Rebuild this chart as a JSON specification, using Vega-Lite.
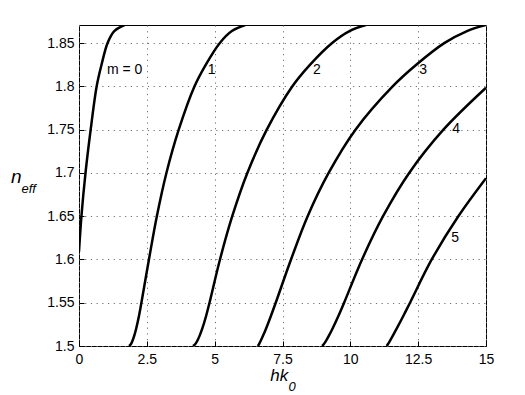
{
  "$schema": "https://vega.github.io/schema/vega-lite/v6.json",
  "width": 407,
  "height": 321,
  "autosize": {"type": "none"},
  "padding": {"left": 79, "top": 25, "right": 39, "bottom": 49},
  "background": "#ffffff",
  "config": {
    "view": {"stroke": "#000000", "strokeWidth": 1},
    "font": "Liberation Sans",
    "axis": {
      "labelFont": "Liberation Sans",
      "labelFontSize": 14,
      "labelColor": "#000000",
      "ticks": true,
      "tickColor": "#000000",
      "tickSize": -5,
      "tickOpacity": 1,
      "domain": false,
      "grid": true,
      "gridColor": "#707070",
      "gridOpacity": 1,
      "gridDash": [1.2, 4.5],
      "gridWidth": 1,
      "labelFlush": false,
      "labelOverlap": false
    }
  },
  "datasets": {
    "curves": [
      {"m": 0, "hk0": 0.0, "neff": 1.609},
      {"m": 0, "hk0": 0.09, "neff": 1.65},
      {"m": 0, "hk0": 0.24, "neff": 1.7},
      {"m": 0, "hk0": 0.43, "neff": 1.75},
      {"m": 0, "hk0": 0.65, "neff": 1.8},
      {"m": 0, "hk0": 0.83, "neff": 1.825},
      {"m": 0, "hk0": 1.05, "neff": 1.85},
      {"m": 0, "hk0": 1.3, "neff": 1.864},
      {"m": 0, "hk0": 1.68, "neff": 1.871},
      {"m": 1, "hk0": 1.845, "neff": 1.5},
      {"m": 1, "hk0": 1.91, "neff": 1.502},
      {"m": 1, "hk0": 1.971, "neff": 1.506},
      {"m": 1, "hk0": 2.037, "neff": 1.512},
      {"m": 1, "hk0": 2.106, "neff": 1.52},
      {"m": 1, "hk0": 2.212, "neff": 1.535},
      {"m": 1, "hk0": 2.3, "neff": 1.55},
      {"m": 1, "hk0": 2.578, "neff": 1.6},
      {"m": 1, "hk0": 2.869, "neff": 1.65},
      {"m": 1, "hk0": 3.222, "neff": 1.7},
      {"m": 1, "hk0": 3.675, "neff": 1.75},
      {"m": 1, "hk0": 4.254, "neff": 1.8},
      {"m": 1, "hk0": 4.67, "neff": 1.825},
      {"m": 1, "hk0": 5.184, "neff": 1.85},
      {"m": 1, "hk0": 5.634, "neff": 1.864},
      {"m": 1, "hk0": 6.126, "neff": 1.871},
      {"m": 2, "hk0": 4.2, "neff": 1.5},
      {"m": 2, "hk0": 4.279, "neff": 1.502},
      {"m": 2, "hk0": 4.359, "neff": 1.506},
      {"m": 2, "hk0": 4.447, "neff": 1.512},
      {"m": 2, "hk0": 4.542, "neff": 1.52},
      {"m": 2, "hk0": 4.687, "neff": 1.535},
      {"m": 2, "hk0": 4.81, "neff": 1.55},
      {"m": 2, "hk0": 5.196, "neff": 1.6},
      {"m": 2, "hk0": 5.648, "neff": 1.65},
      {"m": 2, "hk0": 6.204, "neff": 1.7},
      {"m": 2, "hk0": 6.92, "neff": 1.75},
      {"m": 2, "hk0": 7.858, "neff": 1.8},
      {"m": 2, "hk0": 8.51, "neff": 1.825},
      {"m": 2, "hk0": 9.318, "neff": 1.85},
      {"m": 2, "hk0": 9.968, "neff": 1.864},
      {"m": 2, "hk0": 10.572, "neff": 1.871},
      {"m": 3, "hk0": 6.59, "neff": 1.5},
      {"m": 3, "hk0": 6.632, "neff": 1.502},
      {"m": 3, "hk0": 6.698, "neff": 1.506},
      {"m": 3, "hk0": 6.785, "neff": 1.512},
      {"m": 3, "hk0": 6.892, "neff": 1.52},
      {"m": 3, "hk0": 7.076, "neff": 1.535},
      {"m": 3, "hk0": 7.25, "neff": 1.55},
      {"m": 3, "hk0": 7.814, "neff": 1.6},
      {"m": 3, "hk0": 8.427, "neff": 1.65},
      {"m": 3, "hk0": 9.2, "neff": 1.7},
      {"m": 3, "hk0": 10.19, "neff": 1.75},
      {"m": 3, "hk0": 11.56, "neff": 1.8},
      {"m": 3, "hk0": 12.43, "neff": 1.825},
      {"m": 3, "hk0": 13.46, "neff": 1.85},
      {"m": 3, "hk0": 14.3, "neff": 1.864},
      {"m": 3, "hk0": 15.0, "neff": 1.871},
      {"m": 4, "hk0": 8.96, "neff": 1.5},
      {"m": 4, "hk0": 9.018, "neff": 1.502},
      {"m": 4, "hk0": 9.103, "neff": 1.506},
      {"m": 4, "hk0": 9.211, "neff": 1.512},
      {"m": 4, "hk0": 9.342, "neff": 1.52},
      {"m": 4, "hk0": 9.564, "neff": 1.535},
      {"m": 4, "hk0": 9.77, "neff": 1.55},
      {"m": 4, "hk0": 10.432, "neff": 1.6},
      {"m": 4, "hk0": 11.206, "neff": 1.65},
      {"m": 4, "hk0": 12.168, "neff": 1.7},
      {"m": 4, "hk0": 13.43, "neff": 1.75},
      {"m": 4, "hk0": 15.0, "neff": 1.7985},
      {"m": 5, "hk0": 11.34, "neff": 1.5},
      {"m": 5, "hk0": 11.383, "neff": 1.502},
      {"m": 5, "hk0": 11.46, "neff": 1.506},
      {"m": 5, "hk0": 11.568, "neff": 1.512},
      {"m": 5, "hk0": 11.707, "neff": 1.52},
      {"m": 5, "hk0": 11.957, "neff": 1.535},
      {"m": 5, "hk0": 12.2, "neff": 1.55},
      {"m": 5, "hk0": 13.0, "neff": 1.6},
      {"m": 5, "hk0": 13.98, "neff": 1.65},
      {"m": 5, "hk0": 15.0, "neff": 1.694}
    ],
    "labels": [
      {"hk0": 1.68, "neff": 1.819, "label": "m = 0"},
      {"hk0": 4.89, "neff": 1.819, "label": "1"},
      {"hk0": 8.77, "neff": 1.819, "label": "2"},
      {"hk0": 12.68, "neff": 1.819, "label": "3"},
      {"hk0": 13.9, "neff": 1.751, "label": "4"},
      {"hk0": 13.86, "neff": 1.6245, "label": "5"}
    ],
    "mainTitles": [
      {"hk0": -2.506, "neff": 1.6885, "label": "n", "side": "left"},
      {"hk0": 7.71, "neff": 1.4595, "label": "hk", "side": "right"}
    ],
    "subTitles": [
      {"hk0": -2.12, "neff": 1.6769, "label": "eff"},
      {"hk0": 7.72, "neff": 1.448, "label": "0"}
    ]
  },
  "layer": [
    {
      "data": {"name": "curves"},
      "mark": {"type": "line", "color": "#000000", "strokeWidth": 2.5, "clip": true, "interpolate": "catmull-rom"},
      "encoding": {
        "x": {
          "field": "hk0", "type": "quantitative",
          "scale": {"domain": [0, 15], "nice": false, "zero": false},
          "axis": {"values": [0, 2.5, 5, 7.5, 10, 12.5, 15], "format": ".4~g", "grid": true, "title": null, "labelPadding": 11}
        },
        "y": {
          "field": "neff", "type": "quantitative",
          "scale": {"domain": [1.5, 1.871], "nice": false, "zero": false},
          "axis": {"values": [1.5, 1.55, 1.6, 1.65, 1.7, 1.75, 1.8, 1.85], "format": ".4~g", "grid": true, "title": null, "labelPadding": 10}
        },
        "detail": {"field": "m", "type": "nominal"}
      }
    },
    {
      "data": {"name": "labels"},
      "mark": {"type": "text", "fontSize": 14, "font": "Liberation Sans", "color": "#000000", "align": "center", "baseline": "middle"},
      "encoding": {
        "x": {"field": "hk0", "type": "quantitative"},
        "y": {"field": "neff", "type": "quantitative"},
        "text": {"field": "label", "type": "nominal"}
      }
    },
    {
      "data": {"name": "mainTitles"},
      "transform": [{"filter": "datum.side == 'left'"}],
      "mark": {"type": "text", "fontSize": 19, "font": "Liberation Sans", "fontStyle": "italic", "color": "#000000", "align": "left", "baseline": "alphabetic"},
      "encoding": {
        "x": {"field": "hk0", "type": "quantitative"},
        "y": {"field": "neff", "type": "quantitative"},
        "text": {"field": "label", "type": "nominal"}
      }
    },
    {
      "data": {"name": "mainTitles"},
      "transform": [{"filter": "datum.side == 'right'"}],
      "mark": {"type": "text", "fontSize": 17, "font": "Liberation Sans", "fontStyle": "italic", "color": "#000000", "align": "right", "baseline": "alphabetic"},
      "encoding": {
        "x": {"field": "hk0", "type": "quantitative"},
        "y": {"field": "neff", "type": "quantitative"},
        "text": {"field": "label", "type": "nominal"}
      }
    },
    {
      "data": {"name": "subTitles"},
      "mark": {"type": "text", "fontSize": 13, "font": "Liberation Sans", "fontStyle": "italic", "color": "#000000", "align": "left", "baseline": "alphabetic"},
      "encoding": {
        "x": {"field": "hk0", "type": "quantitative"},
        "y": {"field": "neff", "type": "quantitative"},
        "text": {"field": "label", "type": "nominal"}
      }
    }
  ]
}
